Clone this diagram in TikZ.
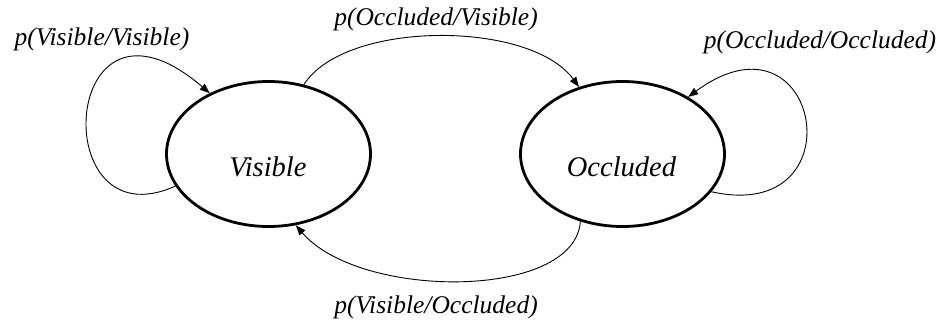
\documentclass[tikz,border=0pt]{standalone}
\usepackage{fontspec}
\setmainfont{Liberation Serif}
\usetikzlibrary{shapes.geometric,arrows.meta}
\tikzset{
  state/.style={ellipse, draw, line width=2.8pt, minimum width=204pt, minimum height=145pt, inner sep=0pt},
  statetext/.style={anchor=base, font=\fontsize{28.5}{30}\selectfont\itshape, inner sep=0pt},
  lbl/.style={anchor=base, font=\fontsize{25.5}{28}\selectfont\itshape, inner sep=0pt},
  conn/.style={line width=0.9pt, -{Triangle[length=10pt,width=7.5pt]}}
}
\begin{document}
\begin{tikzpicture}[x=1pt,y=-1pt]
\useasboundingbox (0,0) rectangle (944,327);
\node[state] (V) at (268.5,154) {};
\node[state] (O) at (622.5,154) {};
\node[statetext] (Vt) at (268,176) {Visible};
\node[statetext] (Ot) at (621.5,176) {Occluded};
\node[lbl] (l1) at (102,45) {p(Visible/Visible)};
\node[lbl] (l2) at (436,25) {p(Occluded/Visible)};
\node[lbl] (l3) at (820,48) {p(Occluded/Occluded)};
\node[lbl] (l4) at (436,313) {p(Visible/Occluded)};
\draw[conn] (V.199) .. controls (45,245) and (60,-35) .. (V.134);
\draw[conn] (V.63) .. controls (345,20) and (530,20) .. (O.123);
\draw[conn] (O.-23) .. controls (860,225) and (820,0) .. (O.41);
\draw[conn] (O.238) .. controls (575,300) and (360,300) .. (V.291);
\end{tikzpicture}
\end{document}
